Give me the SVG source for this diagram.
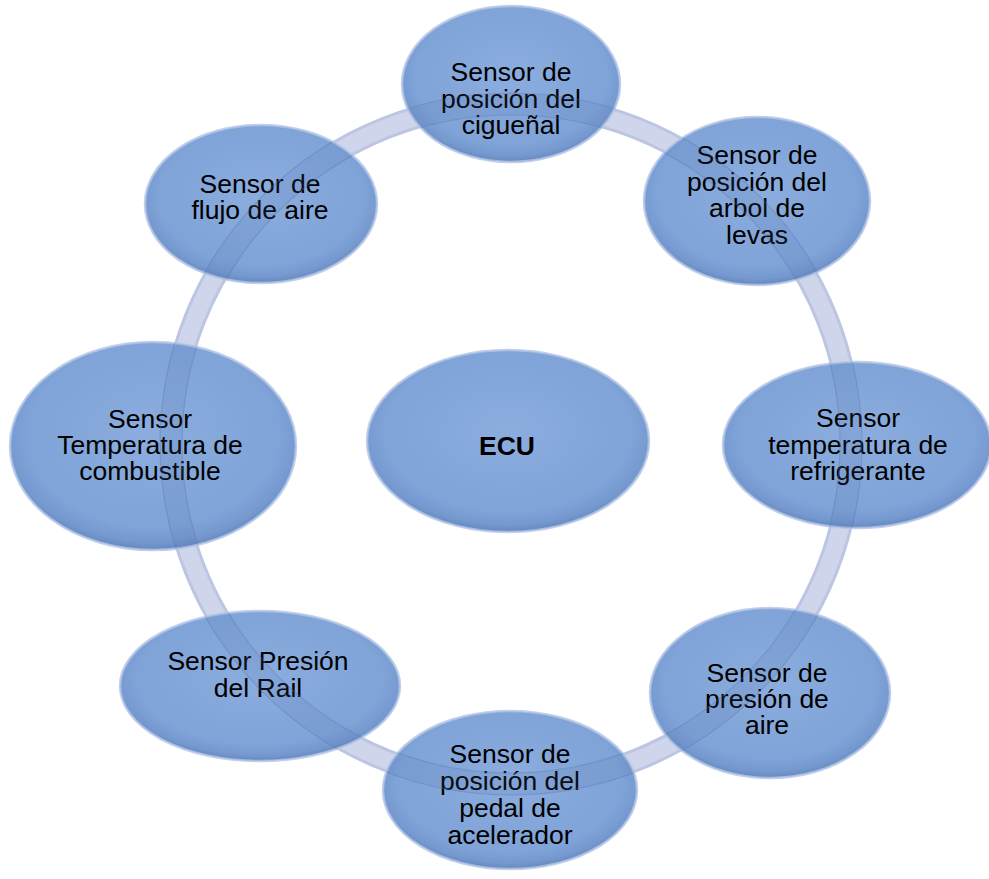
<svg xmlns="http://www.w3.org/2000/svg" width="989" height="879" viewBox="0 0 989 879">
  <defs>
    <radialGradient id="fillG" cx="50%" cy="45%" r="55%">
      <stop offset="0" stop-color="#8badde"/>
      <stop offset="0.8" stop-color="#80a3d8"/>
      <stop offset="0.93" stop-color="#7598cf"/>
      <stop offset="1" stop-color="#6688c0"/>
    </radialGradient>
    <clipPath id="inEllipses">
      <ellipse cx="511" cy="84" rx="109" ry="78"/>
      <ellipse cx="757" cy="201" rx="113" ry="84"/>
      <ellipse cx="857" cy="445" rx="134" ry="83"/>
      <ellipse cx="770" cy="693" rx="120" ry="85"/>
      <ellipse cx="510" cy="790" rx="127" ry="79"/>
      <ellipse cx="260" cy="686" rx="140" ry="75"/>
      <ellipse cx="153" cy="446" rx="143" ry="104"/>
      <ellipse cx="261" cy="204" rx="116" ry="79"/>
    </clipPath>
  </defs>
  <style>
    .node ellipse { fill: url(#fillG); stroke: #b3c5e6; stroke-width: 2.5; stroke-opacity: 0.8; }
    .node text { font-family: "Liberation Sans", Arial, sans-serif; font-size: 26.5px; fill: #000; text-anchor: middle; }
    .bold { font-weight: bold; }
    .ring-outer { fill: none; stroke: #bcc5e2; stroke-width: 23; }
    .ring-inner { fill: none; stroke: #cfd6ec; stroke-width: 17; }
    .ring-shade { fill: none; stroke: #4d6aa8; stroke-width: 22; stroke-opacity: 0.12; }
    .ring-edge { fill: none; stroke: #5a76b0; stroke-width: 1.2; stroke-opacity: 0.35; }
  </style>
  <rect width="989" height="879" fill="#ffffff"/>

  <g id="connectors">
    <circle class="ring-outer" cx="511" cy="444" r="340"/>
    <circle class="ring-inner" cx="511" cy="444" r="340"/>
  </g>

  <g id="node-cigueñal" class="node">
    <ellipse cx="511" cy="84" rx="109" ry="78"/>
    <text x="511" y="81">Sensor de<tspan x="511" dy="26.5">posición del</tspan><tspan x="511" dy="26.5">cigueñal</tspan></text>
  </g>

  <g id="node-arbol" class="node">
    <ellipse cx="757" cy="201" rx="113" ry="84"/>
    <text x="757" y="164">Sensor de<tspan x="757" dy="26.7">posición del</tspan><tspan x="757" dy="26.7">arbol de</tspan><tspan x="757" dy="26.7">levas</tspan></text>
  </g>

  <g id="node-refrigerante" class="node">
    <ellipse cx="857" cy="445" rx="134" ry="83"/>
    <text x="858" y="427">Sensor<tspan x="858" dy="26.5">temperatura de</tspan><tspan x="858" dy="26.5">refrigerante</tspan></text>
  </g>

  <g id="node-presion-aire" class="node">
    <ellipse cx="770" cy="693" rx="120" ry="85"/>
    <text x="767" y="682">Sensor de<tspan x="767" dy="26">presión de</tspan><tspan x="767" dy="26">aire</tspan></text>
  </g>

  <g id="node-pedal" class="node">
    <ellipse cx="510" cy="790" rx="127" ry="79"/>
    <text x="510" y="763">Sensor de<tspan x="510" dy="27">posición del</tspan><tspan x="510" dy="27">pedal de</tspan><tspan x="510" dy="27">acelerador</tspan></text>
  </g>

  <g id="node-rail" class="node">
    <ellipse cx="260" cy="686" rx="140" ry="75"/>
    <text x="258" y="670">Sensor Presión<tspan x="258" dy="27">del Rail</tspan></text>
  </g>

  <g id="node-combustible" class="node">
    <ellipse cx="153" cy="446" rx="143" ry="104"/>
    <text x="150" y="428">Sensor<tspan x="150" dy="26">Temperatura de</tspan><tspan x="150" dy="26">combustible</tspan></text>
  </g>

  <g id="node-flujo" class="node">
    <ellipse cx="261" cy="204" rx="116" ry="79"/>
    <text x="260" y="193">Sensor de<tspan x="260" dy="26">flujo de aire</tspan></text>
  </g>

  <g id="node-ecu" class="node">
    <ellipse cx="508" cy="441" rx="141" ry="91"/>
    <text class="bold" x="507" y="455">ECU</text>
  </g>

  <g id="ring-overlay" clip-path="url(#inEllipses)">
    <circle class="ring-shade" cx="511" cy="444" r="340"/>
    <circle class="ring-edge" cx="511" cy="444" r="351"/>
    <circle class="ring-edge" cx="511" cy="444" r="329"/>
  </g>
</svg>
